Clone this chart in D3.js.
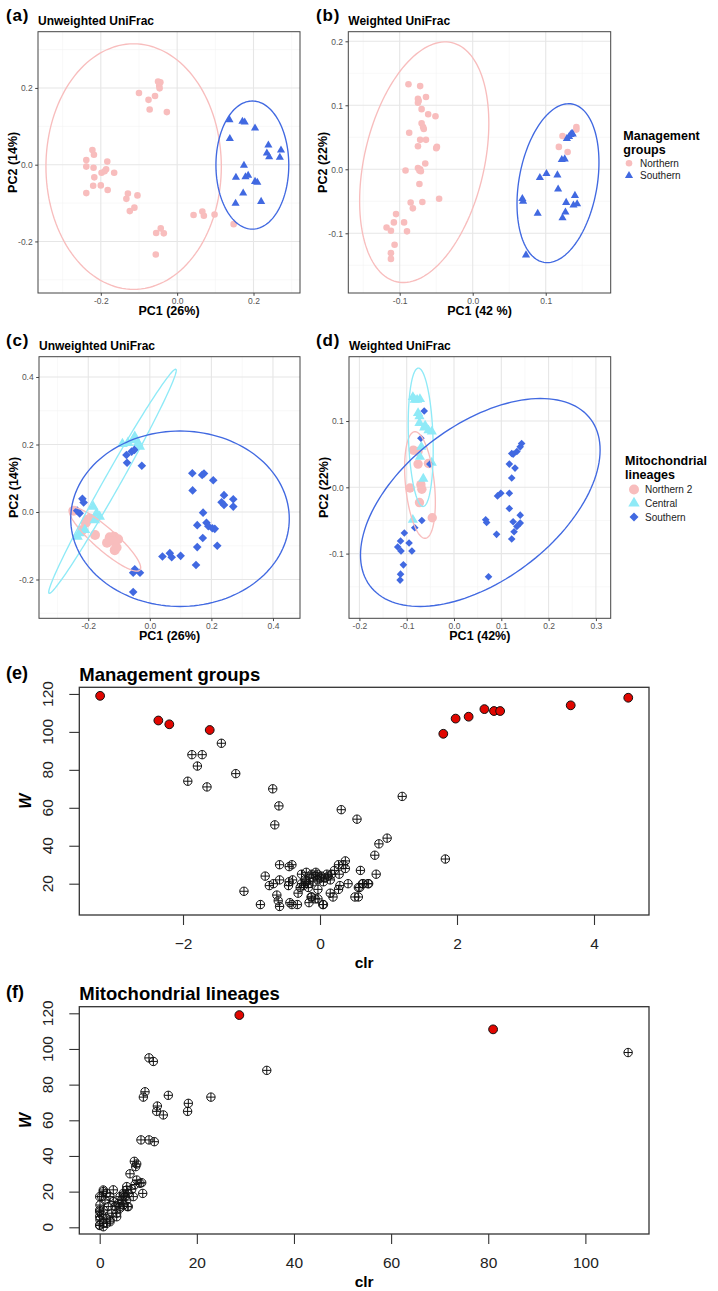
<!DOCTYPE html>
<html>
<head>
<meta charset="utf-8">
<script src="https://cdn.jsdelivr.net/npm/d3@7"></script>
<style>
  body { margin: 0; background: #fff; }
  svg { display: block; }
</style>
</head>
<body>
<div id="chart"></div>
<script>
// ---- data: PCoA scores (PC1, PC2) ----
const unwMgmtNorthern = [[-0.050,0.217],[-0.044,0.215],[-0.047,0.206],[-0.046,0.199],[-0.100,0.187],[-0.058,0.179],[-0.075,0.169],[-0.072,0.144],[-0.027,0.137],[-0.222,0.038],[-0.218,0.026],[-0.238,0.012],[-0.183,0.008],[-0.238,-0.005],[-0.219,-0.008],[-0.186,-0.012],[-0.190,-0.017],[-0.198,-0.021],[-0.165,-0.021],[-0.217,-0.033],[-0.220,-0.055],[-0.200,-0.054],[-0.182,-0.066],[-0.238,-0.074],[-0.129,-0.075],[-0.104,-0.080],[-0.133,-0.089],[-0.112,-0.112],[-0.124,-0.121],[0.043,-0.131],[0.066,-0.122],[0.070,-0.133],[0.098,-0.130],[0.148,-0.155],[-0.055,-0.178],[-0.043,-0.166],[-0.035,-0.179],[-0.056,-0.234]];
const unwMgmtSouthern = [[0.137,0.117],[0.171,0.113],[0.177,0.111],[0.204,0.095],[0.138,0.068],[0.239,0.051],[0.272,0.038],[0.235,0.030],[0.241,0.020],[0.269,0.019],[0.175,-0.002],[0.154,-0.033],[0.179,-0.032],[0.186,-0.028],[0.204,-0.044],[0.210,-0.046],[0.173,-0.074],[0.220,-0.096],[0.153,-0.101]];

const wMgmtNorthern = [[-0.088,0.133],[-0.072,0.130],[-0.075,0.110],[-0.074,0.107],[-0.075,0.104],[-0.064,0.113],[-0.070,0.094],[-0.061,0.086],[-0.051,0.083],[-0.087,0.057],[-0.070,0.072],[-0.068,0.066],[-0.067,0.063],[-0.072,0.046],[-0.064,0.046],[-0.075,0.036],[-0.049,0.035],[-0.050,0.033],[-0.065,0.009],[-0.092,-0.002],[-0.075,0.002],[-0.072,0.000],[-0.071,-0.003],[-0.073,-0.002],[-0.073,-0.023],[-0.046,-0.046],[-0.085,-0.052],[-0.069,-0.051],[-0.082,-0.061],[-0.105,-0.070],[-0.108,-0.083],[-0.094,-0.083],[-0.118,-0.091],[-0.112,-0.096],[-0.090,-0.097],[-0.107,-0.118],[-0.112,-0.131],[-0.112,-0.140],[0.142,0.066],[0.142,0.062],[0.123,0.052],[0.118,0.035],[0.130,0.027]];
const wMgmtSouthern = [[0.136,0.056],[0.134,0.054],[0.137,0.055],[0.132,0.051],[0.129,0.048],[0.122,0.015],[0.126,0.016],[0.092,-0.013],[0.101,-0.007],[0.116,-0.009],[0.117,-0.031],[0.068,-0.046],[0.069,-0.050],[0.140,-0.041],[0.128,-0.052],[0.143,-0.054],[0.138,-0.056],[0.089,-0.069],[0.127,-0.067],[0.123,-0.076],[0.073,-0.134]];

const unwMitoNorthern2 = [[-0.247,0.004],[-0.204,-0.024],[-0.195,-0.019],[-0.208,-0.032],[-0.178,-0.068],[-0.130,-0.075],[-0.116,-0.073],[-0.103,-0.081],[-0.139,-0.091],[-0.119,-0.086],[-0.114,-0.113],[-0.108,-0.105],[-0.219,-0.053]];
const unwMitoCentral = [[-0.089,0.202],[-0.071,0.205],[-0.054,0.213],[-0.049,0.223],[-0.038,0.204],[-0.033,0.194],[-0.184,0.016],[-0.173,-0.004],[-0.163,-0.014],[-0.179,-0.024],[-0.235,-0.073],[-0.228,-0.063],[-0.211,-0.053]];
const unwMitoSouthern = [[-0.076,0.169],[-0.059,0.179],[-0.050,0.184],[-0.074,0.146],[-0.026,0.137],[-0.219,0.039],[-0.215,0.028],[-0.236,0.004],[-0.228,-0.004],[-0.049,-0.170],[-0.032,-0.180],[-0.054,-0.180],[-0.054,-0.237],[0.138,0.115],[0.170,0.110],[0.176,0.114],[0.206,0.094],[0.139,0.064],[0.241,0.050],[0.233,0.029],[0.241,0.021],[0.271,0.038],[0.271,0.016],[0.173,-0.002],[0.154,-0.039],[0.184,-0.032],[0.190,-0.042],[0.203,-0.048],[0.211,-0.050],[0.172,-0.077],[0.219,-0.100],[0.154,-0.104],[0.041,-0.132],[0.065,-0.122],[0.071,-0.134],[0.100,-0.130],[0.150,-0.157]];

const wMitoNorthern2 = [[-0.086,0.056],[-0.076,0.054],[-0.076,0.035],[-0.054,0.036],[-0.093,-0.001],[-0.070,0.004],[-0.068,-0.003],[-0.073,-0.023],[-0.046,-0.046]];
const wMitoCentral = [[-0.087,0.136],[-0.072,0.133],[-0.078,0.132],[-0.076,0.112],[-0.073,0.107],[-0.073,0.097],[-0.061,0.093],[-0.054,0.086],[-0.047,0.084],[-0.069,0.061],[-0.072,0.046],[-0.047,0.037],[-0.065,0.013],[-0.087,-0.049],[-0.083,0.132],[-0.063,0.090]];
const wMitoSouthern = [[-0.063,0.115],[-0.070,0.074],[-0.051,0.035],[-0.068,-0.050],[-0.083,-0.061],[-0.105,-0.069],[-0.113,-0.081],[-0.095,-0.084],[-0.119,-0.090],[-0.112,-0.096],[-0.089,-0.096],[-0.107,-0.117],[-0.113,-0.131],[-0.114,-0.140],[0.143,0.066],[0.140,0.061],[0.133,0.054],[0.125,0.050],[0.122,0.051],[0.117,0.035],[0.129,0.029],[0.122,0.014],[0.092,-0.013],[0.099,-0.009],[0.117,-0.009],[0.117,-0.032],[0.140,-0.042],[0.125,-0.052],[0.140,-0.054],[0.133,-0.059],[0.067,-0.049],[0.069,-0.053],[0.090,-0.071],[0.127,-0.067],[0.122,-0.078],[0.073,-0.135]];

// 95% ellipses: centre and two conjugate semi-axes, in PC units
const ellipsesA = [
  { group: "Northern", cx: -0.114, cy: -0.005, ux: 0.2297, uy: 0, vx: 0, vy: 0.320 },
  { group: "Southern", cx: 0.197, cy: -0.001, ux: 0.0954, uy: 0, vx: 0, vy: 0.167 }
];
const ellipsesB = [
  { group: "Northern", cx: -0.0664, cy: 0.0111, ux: 0.0378, uy: 0.1868, vx: 0.080, vy: -0.021 },
  { group: "Southern", cx: 0.1168, cy: -0.0217, ux: 0.0193, uy: 0.1237, vx: 0.0527, vy: -0.0107 }
];
const ellipsesC = [
  { group: "Northern 2", cx: -0.146, cy: -0.0806, ux: 0.1138, uy: -0.0913, vx: 0.0237, vy: 0.0246 },
  { group: "Central", cx: -0.1213, cy: 0.091, ux: 0.2059, uy: 0.3319, vx: 0.0226, vy: -0.0117 },
  { group: "Southern", cx: 0.098, cy: -0.020, ux: 0.355, uy: 0, vx: 0, vy: 0.260 }
];
const ellipsesD = [
  { group: "Northern 2", cx: -0.0719, cy: 0.0035, ux: 0.0307, uy: 0, vx: 0.01057, vy: -0.0804 },
  { group: "Central", cx: -0.0704, cy: 0.0754, ux: 0.02596, uy: 0, vx: 0.00486, vy: -0.1044 },
  { group: "Southern", cx: 0.0556, cy: -0.0229, ux: 0.2533, uy: 0.0792, vx: 0, vy: -0.1354 }
];

// ---- data: W statistic vs clr (ANCOM volcano) ----
const mgmtSignif = [[-3.21,119],[-2.36,106],[-2.20,104],[-1.61,101],[1.80,99],[1.98,107],[2.17,108],[2.40,112],[2.54,111],[2.63,111],[3.66,114],[4.50,118]];
const mgmtOther = [[-1.44,94],[-1.87,88],[-1.72,88],[-1.79,82],[-1.23,78],[-1.93,74],[-1.65,71],[-0.69,70],[-0.60,61],[-0.66,51],[0.31,59],[0.54,54],[-1.11,16],
  [1.20,66],[1.83,33],[0.98,44],[0.86,41],[0.80,35],[0.82,25],[0.59,27],[0.63,20],[0.70,20],[0.58,18],[0.56,13],
  [0.37,32],[0.27,30],[0.34,30],[0.37,28],[0.21,27],[0.28,25],[-0.59,30],[-0.45,29],[-0.41,30],[-0.80,24],[-0.59,22],[-0.68,20],[-0.74,19],[-0.45,21],[-0.40,22],[-0.46,19],[-0.27,25],[-0.20,26],
  [-0.87,9],[-0.63,14],[-0.61,11],[-0.59,8],[-0.44,10],[-0.41,9],[-0.33,9],[-0.16,10],[-0.13,13],[-0.03,17],[-0.03,12],[0.05,9],[-0.32,15],[0.19,13],[0.27,17],[0.29,19],[0.41,20],[0.51,13],[0.56,18],[0.62,20],[0.71,20],
  [-0.22,22],[-0.15,23],[-0.07,24],[-0.04,25],[0.02,24],[0.07,23],[0.15,22],[-0.10,21],[-0.17,20],[-0.24,19],[-0.03,22],[0.10,25],[0.00,23],[-0.12,25],[-0.20,21],[0.05,21],[0.12,24],[-0.29,18],[-0.27,20],[-0.06,26],[0.17,25],[-0.17,18],[0.15,15],[-0.12,13],[-0.07,12],[0.04,9]];

const mitoSignif = [[28.75,119],[81.0,111]];
const mitoOther = [[108.8,98],[34.4,88],[10.15,95],[11.05,93],[9.33,76],[8.99,73],[14.13,74],[22.9,73],[11.87,68],[11.73,65],[13.1,63],[18.25,69.5],[18.1,65],[8.5,49],[10.15,49],[11.25,48],[7.13,37],[7.62,35.5],[7.41,34],[6.24,30],[7.62,26.5],[8.65,25],[7.27,24],[8.86,19],[2.8,21],
  [8.3,24.7],[5.56,22.8],[6.59,21.3],[5.89,19.1],[6.92,17.2],[5.56,15.3],[4.86,12.5],[4.18,10.7],[5.68,11.6],
  [0.74,20.9],[1.44,19.1],[0.41,17.2],[1.09,15.3],[2.12,17.2],[2.8,14.4],[0.06,12.5],[1.77,11.6],[0.74,9.7],[0,8.8],[0.41,7],[1.44,5.1],[0.06,4.2],[0.74,2.2],[2.47,7.9],[3.15,11.6],[3.5,5.9],[2.12,3.1],[0,1.3],[4.18,17.2],[3.83,13.5],[4.86,18.1],
  [0,1],[0,6],[0,9.6],[0,17.2],[0.74,20],[4.86,19.1],[5.56,20.9],[5.21,17.2],[4.53,15.3],[5.89,11.6],[4.18,11.6],[3.5,7.9],[2.12,4.1],[1.44,2.2],[0.74,0.3]];

// ---- drawing ----
const width = 718, height = 1291;
const FONT = "'Liberation Sans', Arial, Helvetica, sans-serif";
const colorOf = { "Northern": "#F8BDBD", "Northern 2": "#F8BDBD", "Central": "#8FEAF7", "Southern": "#4169E1" };

const svg = d3.select("#chart")
    .append("svg")
    .attr("width", width)
    .attr("height", height)
    .attr("font-family", FONT);

svg.append("rect").attr("width", width).attr("height", height).attr("fill", "#fff");

function shapePath(shape, cx, cy, r) {
    if (shape === "triangle") {
        const h = r * 0.866;
        return `M${cx},${cy - r}L${cx + h},${cy + r / 2}L${cx - h},${cy + r / 2}Z`;
    }
    if (shape === "diamond") {
        return `M${cx},${cy - r}L${cx + r},${cy}L${cx},${cy + r}L${cx - r},${cy}Z`;
    }
    return `M${cx - r},${cy}a${r},${r} 0 1,0 ${2 * r},0a${r},${r} 0 1,0 ${-2 * r},0Z`;
}

function ggPanel(p) {
    const g = svg.append("g");
    const x = d3.scaleLinear().domain(p.xDomain).range([p.left, p.right]);
    const y = d3.scaleLinear().domain(p.yDomain).range([p.bottom, p.top]);

    // grid lines (theme_bw)
    const grid = g.append("g");
    const vlines = (vals, col, w) => grid.append("g").selectAll("line").data(vals).join("line")
        .attr("x1", d => x(d)).attr("x2", d => x(d)).attr("y1", p.top).attr("y2", p.bottom)
        .attr("stroke", col).attr("stroke-width", w);
    const hlines = (vals, col, w) => grid.append("g").selectAll("line").data(vals).join("line")
        .attr("y1", d => y(d)).attr("y2", d => y(d)).attr("x1", p.left).attr("x2", p.right)
        .attr("stroke", col).attr("stroke-width", w);
    vlines(p.xMinor, "#F3F3F3", 0.6);
    hlines(p.yMinor, "#F3F3F3", 0.6);
    vlines(p.xMajor, "#E6E6E6", 1.1);
    hlines(p.yMajor, "#E6E6E6", 1.1);

    // points
    p.layers.forEach(L => {
        g.append("g").selectAll("path").data(L.data).join("path")
            .attr("d", d => shapePath(L.shape, x(d[0]), y(d[1]), L.size))
            .attr("fill", colorOf[L.group]);
    });

    // ellipses
    const line = d3.line().x(d => x(d[0])).y(d => y(d[1]));
    p.ellipses.forEach(e => {
        const pts = d3.range(0, 145).map(i => {
            const t = i / 144 * 2 * Math.PI;
            return [e.cx + e.ux * Math.cos(t) + e.vx * Math.sin(t),
                    e.cy + e.uy * Math.cos(t) + e.vy * Math.sin(t)];
        });
        g.append("path").attr("d", line(pts)).attr("fill", "none")
            .attr("stroke", colorOf[e.group]).attr("stroke-width", 1.35);
    });

    g.append("rect")
        .attr("x", p.left).attr("y", p.top)
        .attr("width", p.right - p.left).attr("height", p.bottom - p.top)
        .attr("fill", "none").attr("stroke", "#444").attr("stroke-width", 1);

    const fmt = d => d.toFixed(1);
    const xa = g.append("g").attr("transform", `translate(0,${p.bottom})`)
        .call(d3.axisBottom(x).tickValues(p.xMajor).tickFormat(fmt).tickSize(2.8).tickPadding(2));
    const ya = g.append("g").attr("transform", `translate(${p.left},0)`)
        .call(d3.axisLeft(y).tickValues(p.yMajor).tickFormat(fmt).tickSize(2.8).tickPadding(2.5));
    [xa, ya].forEach(a => {
        a.attr("font-family", FONT).attr("font-size", 8.5);
        a.select(".domain").remove();
        a.selectAll(".tick line").attr("stroke", "#444");
        a.selectAll(".tick text").attr("fill", "#555");
    });

    const cx = (p.left + p.right) / 2, cy = (p.top + p.bottom) / 2;
    g.append("text").attr("x", cx).attr("y", p.bottom + 22).attr("text-anchor", "middle")
        .attr("font-weight", "bold").attr("font-size", 12.5).text(p.xTitle);
    g.append("text").attr("transform", `translate(${p.left - 21},${cy}) rotate(-90)`)
        .attr("text-anchor", "middle").attr("font-weight", "bold").attr("font-size", 12.5).text(p.yTitle);
    g.append("text").attr("x", p.left).attr("y", p.top - 7)
        .attr("font-weight", "bold").attr("font-size", 12).text(p.title);
    g.append("text").attr("x", p.tagX).attr("y", p.top - 11)
        .attr("font-weight", "bold").attr("font-size", 17).attr("letter-spacing", 0.8).text(p.tag);
}

function ggLegend(lx, ly, titleLines, items, keyX, keyY0, step) {
    const g = svg.append("g");
    titleLines.forEach((t, i) => g.append("text").attr("x", lx).attr("y", ly + i * 13.5)
        .attr("font-weight", "bold").attr("font-size", 12.5).text(t));
    items.forEach((it, i) => {
        const ky = keyY0 + i * step;
        g.append("path").attr("d", shapePath(it.shape, keyX, ky, it.size)).attr("fill", colorOf[it.group]);
        g.append("text").attr("x", keyX + 11).attr("y", ky + 3.6)
            .attr("font-size", 10).attr("fill", "#222").text(it.group);
    });
}

function basePanel(p) {
    const g = svg.append("g");
    const x = d3.scaleLinear().domain(p.xDomain).range([p.left, p.right]);
    const y = d3.scaleLinear().domain(p.yDomain).range([p.bottom, p.top]);
    const minus = d => d < 0 ? "\u2212" + Math.abs(d) : String(d);

    const xa = g.append("g").attr("transform", `translate(0,${p.bottom})`)
        .call(d3.axisBottom(x).tickValues(p.xTicks).tickFormat(minus).tickSize(10).tickPadding(13));
    const ya = g.append("g").attr("transform", `translate(${p.left},0)`)
        .call(d3.axisLeft(y).tickValues(p.yTicks).tickFormat("").tickSize(10));
    [xa, ya].forEach(a => {
        a.attr("font-family", FONT).attr("font-size", 15.5);
        a.select(".domain").remove();
        a.selectAll(".tick line").attr("stroke", "#333").attr("stroke-width", 1.1);
        a.selectAll(".tick text").attr("fill", "#222");
    });
    g.append("g").selectAll("text").data(p.yTicks).join("text")
        .attr("transform", d => `translate(${p.left - 26},${y(d)}) rotate(-90)`)
        .attr("text-anchor", "middle").attr("font-size", 15.5).attr("fill", "#222")
        .text(d => d);

    g.append("rect")
        .attr("x", p.left).attr("y", p.top)
        .attr("width", p.right - p.left).attr("height", p.bottom - p.top)
        .attr("fill", "none").attr("stroke", "#333").attr("stroke-width", 1.3);

    const r = 4.2;
    g.append("g").selectAll("path").data(p.other).join("path")
        .attr("d", d => {
            const px = x(d[0]), py = y(d[1]);
            return shapePath("circle", px, py, r) + `M${px - r},${py}H${px + r}M${px},${py - r}V${py + r}`;
        })
        .attr("fill", "none").attr("stroke", "#111").attr("stroke-width", 1);
    g.append("g").selectAll("circle").data(p.signif).join("circle")
        .attr("cx", d => x(d[0])).attr("cy", d => y(d[1])).attr("r", 4.4)
        .attr("fill", "#E10600").attr("stroke", "#111").attr("stroke-width", 1);

    g.append("text").attr("x", p.left).attr("y", p.top - 6.5)
        .attr("font-weight", "bold").attr("font-size", 18.5).text(p.title);
    g.append("text").attr("x", 6).attr("y", p.top - 8.5)
        .attr("font-weight", "bold").attr("font-size", 18).text(p.tag);
    g.append("text").attr("x", (p.left + p.right) / 2).attr("y", p.bottom + 53)
        .attr("text-anchor", "middle").attr("font-weight", "bold").attr("font-size", 15.5).text("clr");
    g.append("text").attr("transform", `translate(31,${(p.top + p.bottom) / 2}) rotate(-90)`)
        .attr("text-anchor", "middle").attr("font-weight", "bold").attr("font-style", "italic")
        .attr("font-size", 16).text("W");
}

// (a)
ggPanel({
    left: 38, right: 300, top: 31.7, bottom: 293,
    xDomain: [-0.3645, 0.3218], yDomain: [-0.3344, 0.3466],
    xMajor: [-0.2, 0, 0.2], xMinor: [-0.3, -0.1, 0.1, 0.3],
    yMajor: [-0.2, 0, 0.2], yMinor: [-0.3, -0.1, 0.1, 0.3],
    layers: [
        { group: "Northern", shape: "circle", size: 3.3, data: unwMgmtNorthern },
        { group: "Southern", shape: "triangle", size: 4.7, data: unwMgmtSouthern }
    ],
    ellipses: ellipsesA,
    xTitle: "PC1 (26%)", yTitle: "PC2 (14%)", title: "Unweighted UniFrac", tag: "(a)", tagX: 6
});

// (b)
ggPanel({
    left: 348.3, right: 610.7, top: 31.7, bottom: 293,
    xDomain: [-0.1704, 0.189], yDomain: [-0.1933, 0.215],
    xMajor: [-0.1, 0, 0.1], xMinor: [-0.15, -0.05, 0.05, 0.15],
    yMajor: [-0.1, 0, 0.1, 0.2], yMinor: [-0.15, -0.05, 0.05, 0.15],
    layers: [
        { group: "Northern", shape: "circle", size: 3.3, data: wMgmtNorthern },
        { group: "Southern", shape: "triangle", size: 4.7, data: wMgmtSouthern }
    ],
    ellipses: ellipsesB,
    xTitle: "PC1 (42 %)", yTitle: "PC2 (22%)", title: "Weighted UniFrac", tag: "(b)", tagX: 316
});

ggLegend(623.3, 140, ["Management", "groups"],
    [{ group: "Northern", shape: "circle", size: 3.3 }, { group: "Southern", shape: "triangle", size: 4.7 }],
    629, 163.3, 12.4);

// (c)
ggPanel({
    left: 39, right: 300, top: 356.7, bottom: 618.3,
    xDomain: [-0.36, 0.4878], yDomain: [-0.315, 0.4602],
    xMajor: [-0.2, 0, 0.2, 0.4], xMinor: [-0.3, -0.1, 0.1, 0.3],
    yMajor: [-0.2, 0, 0.2, 0.4], yMinor: [-0.3, -0.1, 0.1, 0.3],
    layers: [
        { group: "Northern 2", shape: "circle", size: 5, data: unwMitoNorthern2 },
        { group: "Central", shape: "triangle", size: 6.2, data: unwMitoCentral },
        { group: "Southern", shape: "diamond", size: 4.3, data: unwMitoSouthern }
    ],
    ellipses: ellipsesC,
    xTitle: "PC1 (26%)", yTitle: "PC2 (14%)", title: "Unweighted UniFrac", tag: "(c)", tagX: 6
});

// (d)
ggPanel({
    left: 349, right: 610.7, top: 356.7, bottom: 618.3,
    xDomain: [-0.222, 0.3313], yDomain: [-0.1976, 0.197],
    xMajor: [-0.2, -0.1, 0, 0.1, 0.2, 0.3], xMinor: [-0.15, -0.05, 0.05, 0.15, 0.25],
    yMajor: [-0.1, 0, 0.1], yMinor: [-0.15, -0.05, 0.05, 0.15],
    layers: [
        { group: "Northern 2", shape: "circle", size: 4.7, data: wMitoNorthern2 },
        { group: "Central", shape: "triangle", size: 5.9, data: wMitoCentral },
        { group: "Southern", shape: "diamond", size: 3.8, data: wMitoSouthern }
    ],
    ellipses: ellipsesD,
    xTitle: "PC1 (42%)", yTitle: "PC2 (22%)", title: "Weighted UniFrac", tag: "(d)", tagX: 316
});

ggLegend(625, 465, ["Mitochondrial", "lineages"],
    [{ group: "Northern 2", shape: "circle", size: 5 }, { group: "Central", shape: "triangle", size: 6.6 },
     { group: "Southern", shape: "diamond", size: 4.5 }],
    634, 489.5, 13.8);

// (e)
basePanel({
    left: 79.3, right: 649, top: 687.3, bottom: 915,
    xDomain: [-3.514, 4.803], yDomain: [3.5, 123.5],
    xTicks: [-2, 0, 2, 4], yTicks: [20, 40, 60, 80, 100, 120],
    other: mgmtOther, signif: mgmtSignif,
    title: "Management groups", tag: "(e)"
});

// (f)
basePanel({
    left: 79.3, right: 649, top: 1006.7, bottom: 1234,
    xDomain: [-4.2, 113.1], yDomain: [-3.76, 123.7],
    xTicks: [0, 20, 40, 60, 80, 100], yTicks: [0, 20, 40, 60, 80, 100, 120],
    other: mitoOther, signif: mitoSignif,
    title: "Mitochondrial lineages", tag: "(f)"
});
</script>
</body>
</html>
